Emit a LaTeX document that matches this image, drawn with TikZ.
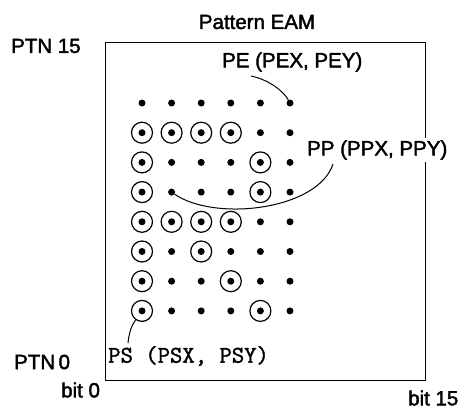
\documentclass[tikz,border=0pt]{standalone}
\usepackage{fontspec}
\newfontfamily\lblfont[FakeBold=2]{Liberation Sans}
\newfontfamily\psfont[FakeBold=1.5]{Latin Modern Mono}
\begin{document}
\begin{tikzpicture}[x=1pt,y=-1pt]
\tikzset{
  dotn/.style={circle,fill=black,inner sep=0pt,minimum size=7pt},
  ring/.style={circle,draw=black,line width=1.2pt,inner sep=0pt,minimum size=21pt},
  lbl/.style={font=\lblfont\fontsize{20.5}{24}\selectfont,inner sep=1pt},
  pslbl/.style={font=\psfont\fontsize{24}{26}\selectfont,inner sep=1pt},
  lead/.style={line width=1pt},
}
\useasboundingbox (0,0) rectangle (459,410);
\node[draw,line width=1.3pt,minimum width=320pt,minimum height=338pt,inner sep=0pt,anchor=north west] (box) at (105,42) {};
\foreach \c in {0,...,5} \foreach \r in {0,...,7}
  \node[dotn] (d-\c-\r) at ({142+29.6*\c},{103+29.7*\r}) {};
\foreach \c/\r in {0/1,1/1,2/1,3/1,0/2,4/2,0/3,4/3,0/4,1/4,2/4,3/4,0/5,2/5,0/6,3/6,0/7,4/7}
  \node[ring] (c-\c-\r) at (d-\c-\r) {};
\node[lbl] (title) at (257,22) {Pattern EAM};
\node[lbl,anchor=west] (ptn15) at (10,46) {PTN 15};
\node[lbl,anchor=west] (ptn0) at (13,362) {PTN\,0};
\node[lbl,anchor=west] (bit0) at (60,390) {bit 0};
\node[lbl,anchor=west] (bit15) at (407,398) {bit 15};
\node[lbl,anchor=west] (pe) at (221,62) {PE (PEX, PEY)};
\node[lbl,anchor=west,fill=white,inner sep=2pt] (pp) at (305,150) {PP (PPX, PPY)};
\node[pslbl,anchor=west] (ps) at (107,356) {PS (PSX, PSY)};
\coordinate (peS) at (251,76);
\draw[lead] (peS) .. controls (270,80) and (284,92) .. (d-5-0);
\coordinate (ppS) at (333,164);
\draw[lead] (ppS) .. controls (318,210) and (215,222) .. (d-1-3);
\coordinate (psS) at (128,343);
\draw[lead] (psS) .. controls (129,332) and (132,325) .. (c-0-7);
\end{tikzpicture}
\end{document}
